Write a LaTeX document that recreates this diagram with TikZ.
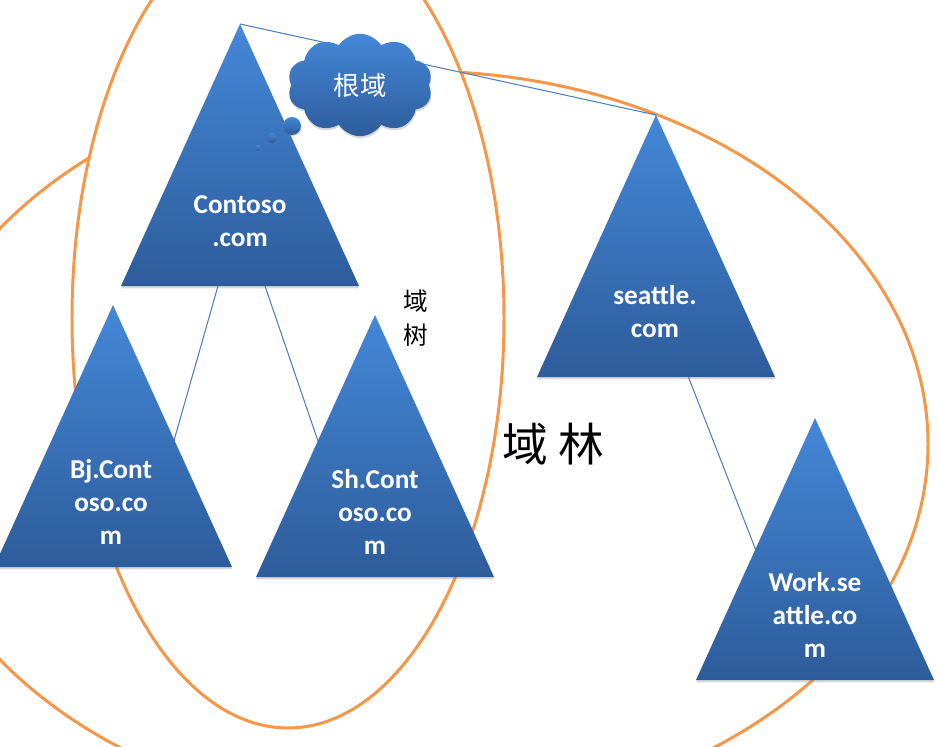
\documentclass[tikz,border=0pt]{standalone}
\usepackage{fontspec}
\setmainfont{Carlito}
\newfontfamily\cjk{Noto Sans CJK SC}
\usetikzlibrary{shapes.symbols,shadows}

\definecolor{forestorange}{RGB}{247,150,70}
\definecolor{linkblue}{RGB}{79,129,189}
\definecolor{tritop}{RGB}{68,136,216}
\definecolor{tribottom}{RGB}{46,92,155}

\begin{document}
\begin{tikzpicture}[x=0.02cm, y=-0.02cm,
    % Styles
    domain-tri/.style={top color=tritop, bottom color=tribottom, drop shadow={opacity=0.3, shadow xshift=0pt, shadow yshift=-1.3pt}},
    domain-label/.style={text=white, font=\bfseries\fontsize{15.5}{18.8}\selectfont, align=center, inner sep=0pt},
    ring/.style={draw=forestorange, line width=1.7pt},
    link/.style={draw=linkblue, line width=0.6pt},
    bubble/.style={circle, inner sep=0pt, top color=tritop, bottom color=tribottom, drop shadow={opacity=0.3, shadow xshift=0.3pt, shadow yshift=-0.6pt}},
    cjk-note/.style={font=\cjk\fontsize{14}{19.3}\selectfont, align=center, inner sep=0pt},
]
\useasboundingbox (0,0) rectangle (938,747);

% Forest ring, then the tree ring on top of it
\draw[ring] (417,444) ellipse [x radius=511, y radius=373];
\draw[ring, fill=white] (288,318) ellipse [x radius=216, y radius=410];

% Apex points of the domains
\coordinate (contoso) at (240,24);
\coordinate (bj) at (113,305);
\coordinate (sh) at (375,315);
\coordinate (seattle) at (656,115);
\coordinate (work) at (815,418);

% Link ends (hidden behind the triangles)
\coordinate (contoso-bj-a) at (225.4,260);
\coordinate (contoso-bj-b) at (165.6,470);
\coordinate (contoso-sh-a) at (256.1,260);
\coordinate (contoso-sh-b) at (327.9,470);
\coordinate (seattle-work-a) at (677.9,350);
\coordinate (seattle-work-b) at (767.5,580);

% Links
\draw[link] (contoso) -- (seattle);
\draw[link] (contoso-bj-a) -- (contoso-bj-b);
\draw[link] (contoso-sh-a) -- (contoso-sh-b);
\draw[link] (seattle-work-a) -- (seattle-work-b);

% Domain triangles
\foreach \apex in {contoso, bj, sh, seattle, work}
    \path[domain-tri] (\apex) -- ++(-119,262) -- ++(238,0) -- cycle;

% Domain names
\node[domain-label] (contoso-label) at (240,221.5) {Contoso\\.com};
\node[domain-label] (bj-label) at (111,501.5) {Bj.Cont\\oso.co\\m};
\node[domain-label] (sh-label) at (375,511.5) {Sh.Cont\\oso.co\\m};
\node[domain-label] (seattle-label) at (655,311.5) {seattle.\\com};
\node[domain-label] (work-label) at (815,615) {Work.se\\attle.co\\m};

% Root callout
\node[bubble, minimum size=0.12cm] (bubble-s) at (258,148) {};
\node[bubble, minimum size=0.22cm] (bubble-m) at (272,138) {};
\node[bubble, minimum size=0.36cm] (bubble-l) at (292,126) {};
\node[cloud, cloud puffs=10, cloud puff arc=115, aspect=1.4, minimum width=2.9cm, minimum height=2.05cm,
    top color=tritop, bottom color=tribottom, drop shadow={opacity=0.3, shadow xshift=0.3pt, shadow yshift=-1.2pt},
    text=white, font=\cjk\fontsize{15}{15}\selectfont] (root) at (360,85) {根域};

% Ring labels
\node[cjk-note] (tree-label) at (416,318) {域\\树};
\node[font=\cjk\fontsize{26}{26}\selectfont, inner sep=0pt] (forest-label) at (553,444) {域 林};

\end{tikzpicture}
\end{document}
